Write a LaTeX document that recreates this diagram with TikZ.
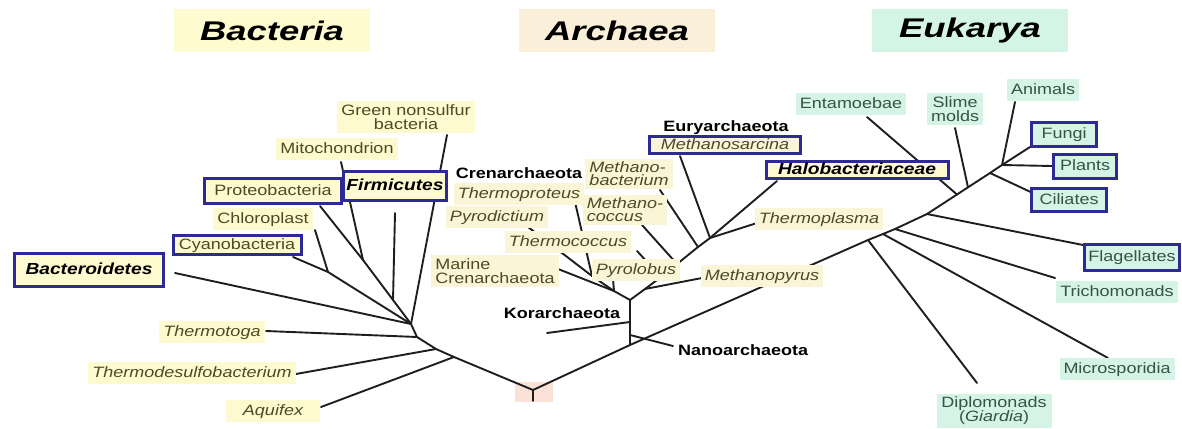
\documentclass[tikz,border=0pt]{standalone}
\usepackage{fontspec}
\setmainfont{Liberation Sans}[FakeStretch=1.2]
\newfontfamily\headfont{Liberation Sans}[FakeStretch=1.35]
\usetikzlibrary{backgrounds}
\definecolor{bacfill}{HTML}{FEFAD0}
\definecolor{arcfill}{HTML}{FBF5D8}
\definecolor{eukfill}{HTML}{D6F4E5}
\definecolor{hbac}{HTML}{FEFBD0}
\definecolor{harc}{HTML}{FAF0DA}
\definecolor{heuk}{HTML}{D4F5E6}
\definecolor{bactext}{HTML}{4E4A22}
\definecolor{euktext}{HTML}{34544A}
\definecolor{boxblue}{HTML}{2D2A96}
\definecolor{treecol}{HTML}{1E1E1E}
\definecolor{rootfill}{HTML}{FBE2D8}
\begin{document}
\begin{tikzpicture}[x=1pt,y=-1pt,
  tree/.style={draw=treecol, line width=1.9pt, line cap=round, line join=round},
  hdr/.style={font=\headfont\fontsize{27}{30}\selectfont\bfseries\itshape, text=black, inner sep=0pt, minimum height=43pt, minimum width=196pt},
  blab/.style={fill=bacfill, text=bactext, inner xsep=4pt, inner ysep=4pt, text height=11pt, text depth=3pt, font=\fontsize{15}{17}\selectfont},
  blabi/.style={blab, font=\fontsize{15}{17}\selectfont\itshape},
  alab/.style={blabi, fill=arcfill},
  elab/.style={fill=eukfill, text=euktext, inner xsep=4pt, inner ysep=4pt, text height=11pt, text depth=3pt, font=\fontsize{15}{17}\selectfont},
  mlab/.style={inner xsep=4pt, inner ysep=3pt, font=\fontsize{15}{14}\selectfont},
  kbold/.style={text=black, font=\fontsize{15}{17}\selectfont\bfseries, inner sep=1pt},
  bluebox/.style={draw=boxblue, line width=3pt, inner sep=0pt, text height=11pt, text depth=3pt},
  bbox/.style={bluebox, fill=bacfill, text=bactext, font=\fontsize{15}{17}\selectfont},
  bboxbi/.style={bluebox, fill=bacfill, text=black, font=\fontsize{16}{18}\selectfont\bfseries\itshape},
  ebox/.style={bluebox, fill=eukfill, text=euktext, font=\fontsize{15}{17}\selectfont}
]
\useasboundingbox (0,0) rectangle (1182,428);

% ---------- headers ----------
\node[hdr, fill=hbac] (hB) at (272,31) {Bacteria};
\node[hdr, fill=harc] (hA) at (617,31) {Archaea};
\node[hdr, fill=heuk] (hE) at (970,31) {Eukarya};

% ---------- junction coordinates ----------
\coordinate (R) at (533,390);
\coordinate (Rb) at (533,401);
\coordinate (Ba) at (454,357);
\coordinate (Bt) at (436,349);
\coordinate (Bm) at (417,337);
\coordinate (Bc) at (411,324);
\coordinate (Jcy) at (328,272);
\coordinate (Jmi) at (363,260);
\coordinate (Jpf) at (393,300);
\coordinate (A0) at (630,345);
\coordinate (K) at (630,322);
\coordinate (N) at (630,335);
\coordinate (S) at (630,300);
\coordinate (C1) at (614,291);
\coordinate (C2) at (592,276);
\coordinate (E1) at (645,289);
\coordinate (E2) at (661,277);
\coordinate (E3) at (677,264);
\coordinate (E4) at (698,247);
\coordinate (E5) at (710,238);
\coordinate (U2) at (868,240);
\coordinate (U3) at (883,234);
\coordinate (U4) at (895,229);
\coordinate (U5) at (927,214);
\coordinate (U6) at (957,194.5);
\coordinate (U7) at (968,187.3);
\coordinate (U8) at (990,173);
\coordinate (U9) at (1002,165);
\coordinate (U10) at (1030,147);
% leaf ends
\coordinate (eAqu) at (321,407);
\coordinate (eTds) at (296,374);
\coordinate (eTtg) at (266,331);
\coordinate (eBdt) at (175,273);
\coordinate (eCya) at (293,257);
\coordinate (eChl) at (315,230);
\coordinate (ePro) at (320,206);
\coordinate (eMit) at (341,162);
\coordinate (eFir) at (395,213);
\coordinate (eGns) at (447,135);
\coordinate (eKor) at (547,333);
\coordinate (eNan) at (673,346);
\coordinate (eMar) at (553,267);
\coordinate (ePyl) at (613,279);
\coordinate (ePyd) at (528,227);
\coordinate (eTpr) at (575,202);
\coordinate (eMpy) at (702,278);
\coordinate (eTcc) at (637,251);
\coordinate (eMcc) at (642,225);
\coordinate (eMba) at (660,190);
\coordinate (eMsa) at (680,156);
\coordinate (eTpl) at (757,223);
\coordinate (eHal) at (777,181);
\coordinate (eDip) at (977,383);
\coordinate (eMic) at (1108,358);
\coordinate (eTri) at (1055,278);
\coordinate (eFla) at (1083,245);
\coordinate (eEnt) at (867,117);
\coordinate (eSli) at (955,128);
\coordinate (eCil) at (1037,195);
\coordinate (eAni) at (1015,102);
\coordinate (ePla) at (1052,166);

% ---------- Bacteria labels ----------
\node[bboxbi, minimum width=149pt, minimum height=33pt] (bdt) at (89,270) {Bacteroidetes};
\node[bbox, minimum width=128pt, minimum height=19pt] (cya) at (237,245) {Cyanobacteria};
\node[blab] (chl) at (263,219) {Chloroplast};
\node[bbox, minimum width=137pt, minimum height=25pt] (pro) at (273,191) {Proteobacteria};
\node[bboxbi, minimum width=103pt, minimum height=29pt] (fir) at (395,186) {Firmicutes};
\node[blab] (mit) at (337,149) {Mitochondrion};
\node[mlab, fill=bacfill, text=bactext, align=center] (gns) at (406,117) {Green nonsulfur\\bacteria};
\node[blabi] (ttg) at (212,332) {Thermotoga};
\node[blabi] (tds) at (192,373) {Thermodesulfobacterium};
\node[blabi, minimum width=94pt] (aqu) at (273,411) {Aquifex};

% ---------- Archaea labels ----------
\node[kbold] (cren) at (519,173) {Crenarchaeota};
\node[alab] (tpr) at (519,194) {Thermoproteus};
\node[alab] (pyd) at (497,217) {Pyrodictium};
\node[alab] (tcc) at (568,242) {Thermococcus};
\node[mlab, fill=arcfill, text=bactext, align=left] (mar) at (495,271) {Marine\\Crenarchaeota};
\node[alab] (pyl) at (636,270) {Pyrolobus};
\node[mlab, fill=arcfill, text=bactext, align=left, font=\fontsize{15}{13}\selectfont\itshape] (mba) at (629,174) {Methano-\\bacterium};
\node[mlab, fill=arcfill, text=bactext, align=left, font=\fontsize{15}{13}\selectfont\itshape] (mcc) at (625,210) {Methano-\\coccus};
\node[kbold] (eury) at (726,128) {Euryarchaeota};
\node[bluebox, fill=arcfill, text=bactext, font=\fontsize{15}{17}\selectfont\itshape, minimum width=151pt, minimum height=17pt] (msa) at (725,145) {Methanosarcina};
\node[bluebox, fill=bacfill, text=black, font=\fontsize{16}{18}\selectfont\bfseries\itshape, minimum width=182pt, minimum height=17pt] (hal) at (857,170) {Halobacteriaceae};
\node[alab] (tpl) at (819,219) {Thermoplasma};
\node[alab] (mpy) at (762,276) {Methanopyrus};
\node[kbold] (kor) at (562,313) {Korarchaeota};
\node[kbold, anchor=west] (nan) at (677,350) {Nanoarchaeota};

% ---------- Eukarya labels ----------
\node[elab] (ent) at (851,104) {Entamoebae};
\node[mlab, fill=eukfill, text=euktext, align=center] (sli) at (955,109) {Slime\\molds};
\node[elab] (ani) at (1043,90) {Animals};
\node[ebox, minimum width=65pt, minimum height=24pt] (fun) at (1064,134) {Fungi};
\node[ebox, minimum width=63pt, minimum height=24pt] (pla) at (1085,166) {Plants};
\node[ebox, minimum width=75pt, minimum height=23pt] (cil) at (1069,200) {Ciliates};
\node[ebox, minimum width=95pt, minimum height=26pt] (fla) at (1132,257) {Flagellates};
\node[elab] (tri) at (1117,292) {Trichomonads};
\node[elab] (mic) at (1117,369) {Microsporidia};
\node[mlab, fill=eukfill, text=euktext, align=center, minimum width=115pt] (dip) at (994,411) {Diplomonads\\(\textit{Giardia})};

% ---------- tree (behind the labels) ----------
\begin{pgfonlayer}{background}
\node[fill=rootfill, minimum width=38pt, minimum height=20pt, inner sep=0pt] (rootbox) at (534,392) {};
\draw[tree] (Rb) -- (R);
\draw[tree] (R) -- (Ba) -- (Bt) -- (Bm) -- (Bc);
\draw[tree] (eAqu) -- (Ba);
\draw[tree] (eTds) -- (Bt);
\draw[tree] (eTtg) -- (Bm);
\draw[tree] (eBdt) -- (Bc);
\draw[tree] (eCya) -- (Jcy) -- (Bc);
\draw[tree] (eChl) -- (Jcy);
\draw[tree] (ePro) -- (Jmi) -- (Jpf) -- (Bc);
\draw[tree] (eMit) -- (Jmi);
\draw[tree] (eFir) -- (Jpf);
\draw[tree] (eGns) -- (Bc);
% archaea
\draw[tree] (R) -- (A0) -- (U2) -- (U3) -- (U4) -- (U5) -- (U6) -- (U7) -- (U8) -- (U9) -- (U10);
\draw[tree] (A0) -- (S);
\draw[tree] (K) -- (eKor);
\draw[tree] (N) -- (eNan);
\draw[tree] (S) -- (C1) -- (eMar);
\draw[tree] (C1) -- (ePyl);
\draw[tree] (C1) -- (C2);
\draw[tree] (C2) -- (ePyd);
\draw[tree] (C2) -- (eTpr);
\draw[tree] (S) -- (E1) -- (E2) -- (E3) -- (E4) -- (E5);
\draw[tree] (E1) -- (eMpy);
\draw[tree] (eTcc) -- (E2);
\draw[tree] (eMcc) -- (E3);
\draw[tree] (eMba) -- (E4);
\draw[tree] (eMsa) -- (E5);
\draw[tree] (eTpl) -- (E5);
\draw[tree] (eHal) -- (E5);
% eukarya
\draw[tree] (U2) -- (eDip);
\draw[tree] (U3) -- (eMic);
\draw[tree] (U4) -- (eTri);
\draw[tree] (U5) -- (eFla);
\draw[tree] (eEnt) -- (U6);
\draw[tree] (eSli) -- (U7);
\draw[tree] (U8) -- (eCil);
\draw[tree] (eAni) -- (U9);
\draw[tree] (U9) -- (ePla);
\end{pgfonlayer}
\end{tikzpicture}
\end{document}
